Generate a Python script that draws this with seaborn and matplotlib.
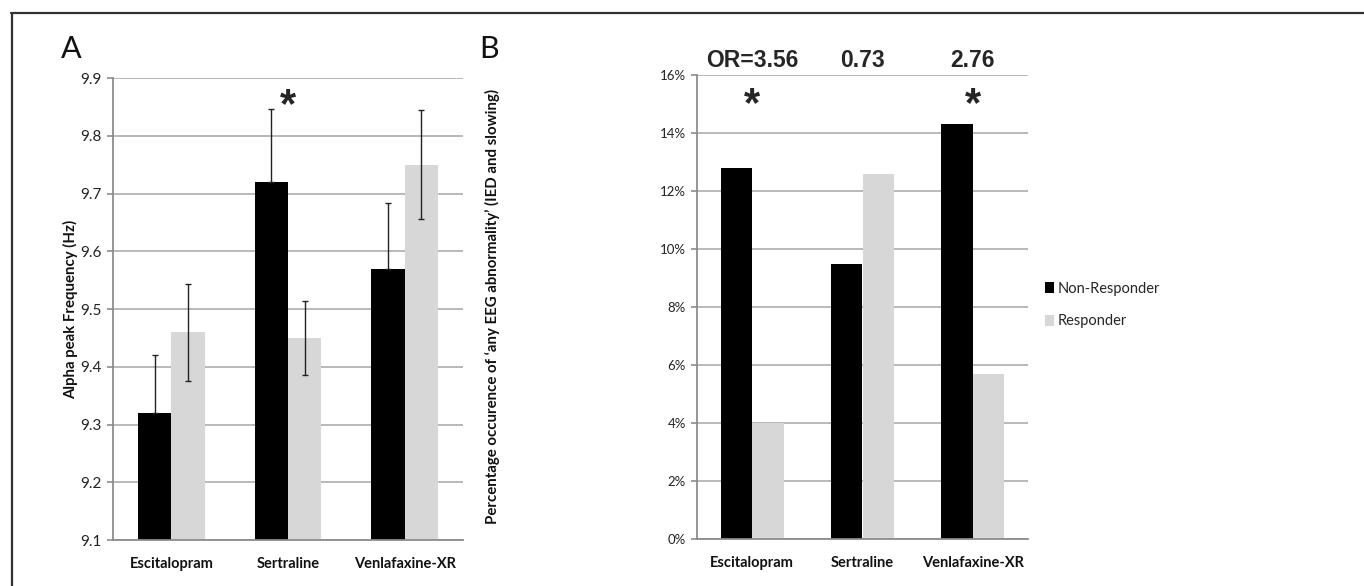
import matplotlib
matplotlib.use("Agg")
import matplotlib.pyplot as plt
from matplotlib.lines import Line2D
import seaborn as sns
import pandas as pd

# ---- data ----
drugs = ["Escitalopram", "Sertraline", "Venlafaxine-XR"]
groups = ["Non-Responder", "Responder"]
alpha_nonresp = [9.32, 9.72, 9.57]
alpha_resp = [9.46, 9.45, 9.75]
alpha_err_nonresp = [0.10, 0.127, 0.114]
alpha_err_resp = [0.084, 0.064, 0.095]
abn_nonresp = [12.8, 9.5, 14.3]
abn_resp = [4.0, 12.6, 5.7]
odds_labels = ["OR=3.56", "0.73", "2.76"]
sig_a = [False, True, False]
sig_b = [True, False, True]
alpha_ticks = [9.1, 9.2, 9.3, 9.4, 9.5, 9.6, 9.7, 9.8, 9.9]
pct_ticks = [0, 2, 4, 6, 8, 10, 12, 14, 16]

colors = ["#000000", "#d7d7d7"]

sns.set_theme(style="white")
plt.rcParams['font.family'] = ['Lato', 'DejaVu Sans']
ARIAL = ['Liberation Sans', 'DejaVu Sans']

W, H = 1364, 586
fig = plt.figure(figsize=(W / 100, H / 100), dpi=100)

def fx(px):
    return px / W

def fy(py):
    return 1 - py / H

axA = fig.add_axes([fx(113), fy(540), fx(463) - fx(113), fy(78) - fy(540)])
axB = fig.add_axes([fx(697), fy(539), fx(1028) - fx(697), fy(75) - fy(539)])

dfA = pd.DataFrame({
    "drug": drugs * 2,
    "group": [groups[0]] * 3 + [groups[1]] * 3,
    "value": alpha_nonresp + alpha_resp,
})
dfB = pd.DataFrame({
    "drug": drugs * 2,
    "group": [groups[0]] * 3 + [groups[1]] * 3,
    "value": abn_nonresp + abn_resp,
})

for ax, df in [(axA, dfA), (axB, dfB)]:
    sns.barplot(data=df, x="drug", y="value", hue="group", order=drugs,
                hue_order=groups, palette=colors, width=0.57, saturation=1,
                errorbar=None, linewidth=0, ax=ax, legend=(ax is axB))

# error bars on panel A (only the upper half shows above the black bars)
errs = [alpha_err_nonresp, alpha_err_resp]
for k, (cont, vals, err) in enumerate(zip(axA.containers, [alpha_nonresp, alpha_resp], errs)):
    xs = [b.get_x() + b.get_width() / 2 for b in cont]
    yerr = [[0] * len(err), err] if k == 0 else err
    axA.errorbar(xs, vals, yerr=yerr, fmt="none", ecolor="#222222",
                 elinewidth=1.0, capsize=2.3, capthick=1.0, zorder=5)

def style(ax, ylim, ticks, fmt):
    ax.set_ylim(*ylim)
    ax.set_xlim(-0.5, 2.5)
    ax.set_yticks(ticks)
    ax.set_yticklabels([fmt(t) for t in ticks])
    ax.yaxis.grid(True, color="#b3b3b3", linewidth=1.3)
    ax.xaxis.grid(False)
    ax.set_axisbelow(True)
    for s in ["top", "right"]:
        ax.spines[s].set_visible(False)
    for s in ["left", "bottom"]:
        ax.spines[s].set_color("#8c8c8c")
        ax.spines[s].set_linewidth(1.3)
    ax.set_xlabel("")
    ax.set_xticks([-0.5, 0.5, 1.5, 2.5], minor=True)
    ax.tick_params(axis="x", which="major", length=0, pad=12)
    ax.tick_params(axis="x", which="minor", length=6, width=1.2, color="#8c8c8c", direction="out")
    ax.tick_params(axis="y", length=4, width=1.2, color="#8c8c8c", direction="out", left=True, pad=4)
    for lab in ax.get_xticklabels():
        lab.set_fontweight("bold")
        lab.set_fontsize(10.5)
        lab.set_color("#111111")

style(axA, (9.1, 9.9), alpha_ticks, lambda t: f"{t:.1f}")
style(axB, (0, 16), pct_ticks, lambda t: f"{t}%")
for lab in axA.get_yticklabels():
    lab.set_fontsize(11)
    lab.set_color("#222222")
for lab in axB.get_yticklabels():
    lab.set_fontsize(9.5)
    lab.set_color("#222222")

axA.set_ylabel("Alpha peak Frequency (Hz)", fontsize=10.8, fontweight="bold", color="#111111")
axB.set_ylabel("Percentage occurence of \u2018any EEG abnormality\u2019 (IED and slowing)",
               fontsize=10.8, fontweight="bold", color="#111111")
axA.yaxis.set_label_coords((78 - 113) / (463 - 113), 0.5)
axB.yaxis.set_label_coords((500 - 697) / (1028 - 697), 0.5)

# significance stars
for i, s in enumerate(sig_a):
    if s:
        axA.text(i, 0.94, "*", transform=axA.get_xaxis_transform(), ha="center", va="center",
                 fontsize=30, fontweight="bold", family=ARIAL)
for i, s in enumerate(sig_b):
    if s:
        axB.text(i, 0.935, "*", transform=axB.get_xaxis_transform(), ha="center", va="center",
                 fontsize=30, fontweight="bold", family=ARIAL)

# odds ratios
for i, t in enumerate(odds_labels):
    axB.text(i, 1.032, t, transform=axB.get_xaxis_transform(), ha="center", va="center",
             fontsize=16.5, fontweight="bold", family=ARIAL)

# panel letters
fig.text(fx(71), fy(49), "A", ha="center", va="center", fontsize=22, color="#111111")
fig.text(fx(489), fy(49), "B", ha="center", va="center", fontsize=22, color="#111111")

# legend
leg = axB.legend(loc="center left", bbox_to_anchor=(fx(1032), fy(305)),
                 bbox_transform=fig.transFigure, frameon=False,
                 prop={"size": 10.5},
                 handlelength=0.6, handleheight=0.8, handletextpad=0.25, labelspacing=1.3)

# outer frame lines
fig.add_artist(Line2D([fx(11), 1], [fy(13), fy(13)], color="#333333", linewidth=1.6))
fig.add_artist(Line2D([fx(12), fx(12)], [fy(13), 0], color="#333333", linewidth=1.6))

fig.savefig("out.png", dpi=100)
